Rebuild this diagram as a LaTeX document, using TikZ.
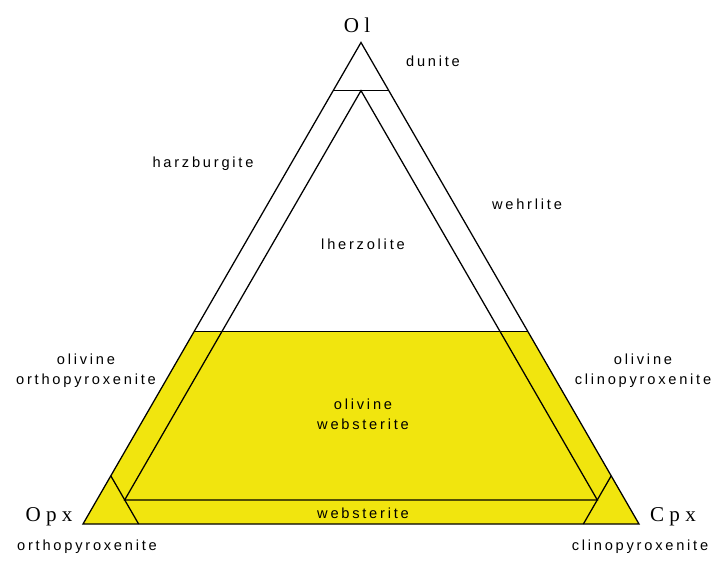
\documentclass[tikz,border=0pt]{standalone}
\usepackage{fontspec}
\newfontfamily\fieldfont[LetterSpace=19]{Liberation Sans}
\newfontfamily\apexfont[LetterSpace=25]{Liberation Serif}
\usepackage{xcolor}
\definecolor{fieldyellow}{RGB}{241,229,14}
\usetikzlibrary{calc}

\begin{document}
\begin{tikzpicture}[
    x=1cm,
    y=1cm,
    field/.style={font=\fieldfont\fontsize{10.4}{14.3}\selectfont,
        align=center, inner sep=0pt},
    apex/.style={font=\apexfont\fontsize{15}{18}\selectfont, inner sep=0pt},
    edge/.style={draw=black, line width=0.9pt, line join=miter},
    fill40/.style={fill=fieldyellow}
]
    \useasboundingbox (-2.075,-1.15) rectangle (15.925,13.1);

    % end members
    \coordinate (Opx) at (0,0);
    \coordinate (Cpx) at (13.9,0);
    \coordinate (Ol) at (6.95,12.038);

    % 40 % olivine
    \coordinate (l40) at (barycentric cs:Ol=0.4,Opx=0.6,Cpx=0);
    \coordinate (r40) at (barycentric cs:Ol=0.4,Opx=0,Cpx=0.6);
    % 90 % olivine
    \coordinate (l90) at (barycentric cs:Ol=0.9,Opx=0.1,Cpx=0);
    \coordinate (r90) at (barycentric cs:Ol=0.9,Opx=0,Cpx=0.1);
    % inner triangle
    \coordinate (iOl) at (barycentric cs:Ol=0.9,Opx=0.05,Cpx=0.05);
    \coordinate (iOpx) at (barycentric cs:Ol=0.05,Opx=0.9,Cpx=0.05);
    \coordinate (iCpx) at (barycentric cs:Ol=0.05,Opx=0.05,Cpx=0.9);
    % 90 % pyroxene corners
    \coordinate (opxA) at (barycentric cs:Ol=0.1,Opx=0.9,Cpx=0);
    \coordinate (opxB) at (barycentric cs:Ol=0,Opx=0.9,Cpx=0.1);
    \coordinate (cpxA) at (barycentric cs:Ol=0.1,Opx=0,Cpx=0.9);
    \coordinate (cpxB) at (barycentric cs:Ol=0,Opx=0.1,Cpx=0.9);

    \fill[fill40] (Opx) -- (Cpx) -- (r40) -- (l40) -- cycle;

    \draw[edge] (Opx) -- (Cpx) -- (Ol) -- cycle;
    \draw[edge] (l40) -- (r40);
    \draw[edge] (l90) -- (r90);
    \draw[edge] (iOl) -- (iOpx) -- (iCpx) -- cycle;
    \draw[edge] (opxA) -- (opxB);
    \draw[edge] (cpxA) -- (cpxB);

    \node[apex] (ol) at (6.85,12.475) {Ol};
    \node[apex] (opx) at (-0.85,0.175) {Opx};
    \node[apex] (cpx) at (14.75,0.175) {Cpx};

    \node[field] (dunite) at (8.75,11.575) {dunite};
    \node[field] (harz) at (3.0,9.0) {harzburgite};
    \node[field] (wehr) at (11.1,8.0) {wehrlite};
    \node[field] (lherz) at (7.0,7.0) {lherzolite};
    \node[field] (olopx) at (0.075,3.825) {olivine\\orthopyroxenite};
    \node[field] (olcpx) at (14.0,3.825) {olivine\\clinopyroxenite};
    \node[field] (olweb) at (7.0,2.75) {olivine\\websterite};
    \node[field] (web) at (7.0,0.275) {websterite};
    \node[field] (opxite) at (0.1,-0.575) {orthopyroxenite};
    \node[field] (cpxite) at (13.925,-0.575) {clinopyroxenite};
\end{tikzpicture}
\end{document}
